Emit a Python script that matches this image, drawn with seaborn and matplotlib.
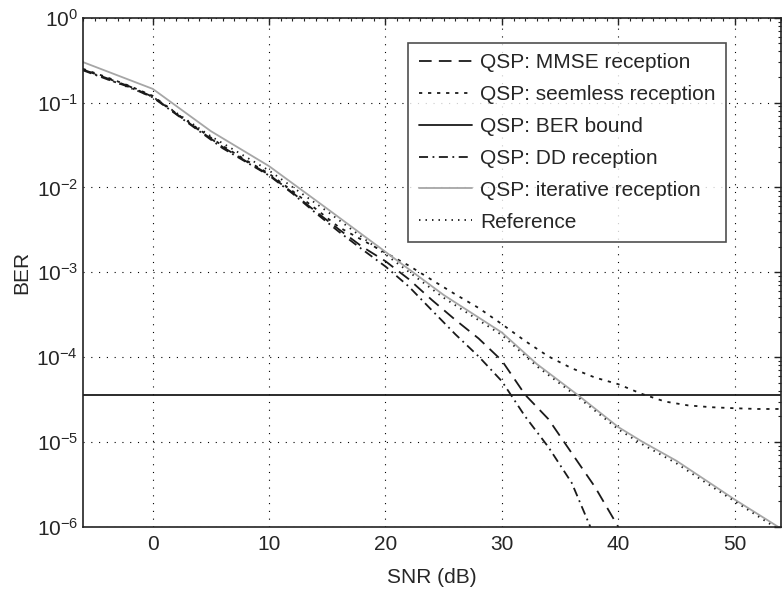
import numpy as np
import pandas as pd
import seaborn as sns
import matplotlib.pyplot as plt
from matplotlib.ticker import MultipleLocator, FixedLocator, LogLocator, NullFormatter

sns.set_style("white")
plt.rcParams['font.family'] = ['Liberation Sans', 'DejaVu Sans']
plt.rcParams['mathtext.fontset'] = 'custom'
plt.rcParams['mathtext.rm'] = 'Liberation Sans'

# values (SNR in dB, BER)
snr_mmse = [-6, -4, -2, 0, 2, 4, 6, 8, 10, 12, 14, 16, 18, 20, 22, 24, 26, 28, 30, 32, 34, 36, 38, 40]
ber_mmse = [0.245, 0.195, 0.155, 0.117, 0.074, 0.047, 0.030, 0.0204, 0.0141, 8.7e-3, 5.2e-3, 3.2e-3,
            2.0e-3, 1.35e-3, 8.3e-4, 4.7e-4, 2.75e-4, 1.66e-4, 9.1e-5, 3.6e-5, 1.86e-5, 7.4e-6,
            2.95e-6, 1.0e-6]

snr_seem = [-6, -4, -2, 0, 2, 4, 6, 8, 10, 12, 14, 16, 18, 20, 22, 24, 26, 28, 30, 32, 34, 36,
            38, 40, 42, 44, 46, 48, 50, 52, 54]
ber_seem = [0.25, 0.20, 0.157, 0.12, 0.075, 0.048, 0.031, 0.021, 0.0145, 9.1e-3, 5.6e-3, 3.4e-3,
            2.4e-3, 1.7e-3, 1.2e-3, 8.1e-4, 5.5e-4, 3.8e-4, 2.45e-4, 1.55e-4, 1.02e-4, 7.4e-5,
            5.75e-5, 4.8e-5, 3.7e-5, 3.0e-5, 2.7e-5, 2.57e-5, 2.5e-5, 2.45e-5, 2.45e-5]

snr_bound = [-6, 54]
ber_bound = [3.6e-5, 3.6e-5]

snr_dd = [-6, -4, -2, 0, 2, 4, 6, 8, 10, 12, 14, 16, 18, 20, 22, 24, 26, 28, 30, 32, 34, 36, 37.6]
ber_dd = [0.24, 0.19, 0.152, 0.115, 0.073, 0.046, 0.029, 0.020, 0.0138, 8.5e-3, 5.0e-3, 3.0e-3,
          1.86e-3, 1.17e-3, 6.8e-4, 3.55e-4, 1.86e-4, 1.02e-4, 5.2e-5, 2.0e-5, 8.7e-6, 3.3e-6,
          1.0e-6]

snr_iter = [-6, 0, 5, 10, 15, 20, 25, 30, 33, 36.5, 40, 42, 45, 48, 50, 54]
ber_iter = [0.30, 0.145, 0.046, 0.0178, 5.6e-3, 1.74e-3, 5.4e-4, 1.95e-4, 8.3e-5, 3.6e-5,
            1.5e-5, 1.02e-5, 6.0e-6, 3.2e-6, 2.1e-6, 9.5e-7]

snr_ref = [-6, 0, 5, 10, 15, 20, 25, 30, 33, 36.5, 40, 42, 45, 48, 50, 54]
ber_ref = [0.245, 0.117, 0.040, 0.0158, 5.2e-3, 1.62e-3, 5.0e-4, 1.82e-4, 7.8e-5, 3.4e-5,
           1.41e-5, 9.5e-6, 5.6e-6, 3.0e-6, 2.0e-6, 8.9e-7]

ber_ticks = [1e-6, 1e-5, 1e-4, 1e-3, 1e-2, 1e-1, 1e0]

series = [
    ("QSP: MMSE reception", snr_mmse, ber_mmse, "#1a1a1a", (0, (7, 4))),
    ("QSP: seemless reception", snr_seem, ber_seem, "#1a1a1a", (0, (1.8, 3.2))),
    ("QSP: BER bound", snr_bound, ber_bound, "#1a1a1a", "-"),
    ("QSP: DD reception", snr_dd, ber_dd, "#1a1a1a", (0, (5, 2.5, 1, 2.5))),
    ("QSP: iterative reception", snr_iter, ber_iter, "#a6a6a6", "-"),
    ("Reference", snr_ref, ber_ref, "#1a1a1a", (0, (0.8, 2.8))),
]

fig = plt.figure(figsize=(7.82, 5.90), dpi=100)
ax = fig.add_axes([0.106, 0.107, 0.893, 0.863])

for name, x, y, col, ls in series:
    df = pd.DataFrame({"SNR": x, "BER": y})
    sns.lineplot(data=df, x="SNR", y="BER", ax=ax, color=col, linestyle=ls,
                 linewidth=1.3, errorbar=None, label=name, legend=False)

ax.set_yscale("log")
ax.set_xlim(-6, 54)
ax.set_ylim(1e-6, 1)
ax.xaxis.set_major_locator(MultipleLocator(10))
ax.xaxis.set_minor_locator(MultipleLocator(1))
ax.yaxis.set_major_locator(FixedLocator(ber_ticks))
ax.yaxis.set_minor_locator(LogLocator(base=10, subs=np.arange(2, 10), numticks=20))
ax.yaxis.set_minor_formatter(NullFormatter())

ax.grid(True, which="major", color="black", linestyle=(0, (1, 6)), linewidth=0.8)
ax.tick_params(which="both", direction="in", top=True, right=True, labelsize=15,
               color="#222222")
ax.tick_params(which="major", length=5, width=1)
ax.tick_params(axis="x", which="major", pad=6)
ax.tick_params(which="minor", length=2.5, width=0.8)
for sp in ax.spines.values():
    sp.set_color("#222222")
    sp.set_linewidth(1.2)

ax.set_xlabel("SNR (dB)", fontsize=15, labelpad=10)
ax.set_ylabel("BER", fontsize=15, labelpad=4)

leg = ax.legend(loc="upper right", bbox_to_anchor=(0.921, 0.951), fontsize=15,
                frameon=True, fancybox=False, edgecolor="#222222",
                handlelength=2.55, handletextpad=0.4, labelspacing=0.62,
                borderpad=0.5, borderaxespad=0)
leg.get_frame().set_linewidth(1.2)

fig.savefig("out.png", dpi=100)
